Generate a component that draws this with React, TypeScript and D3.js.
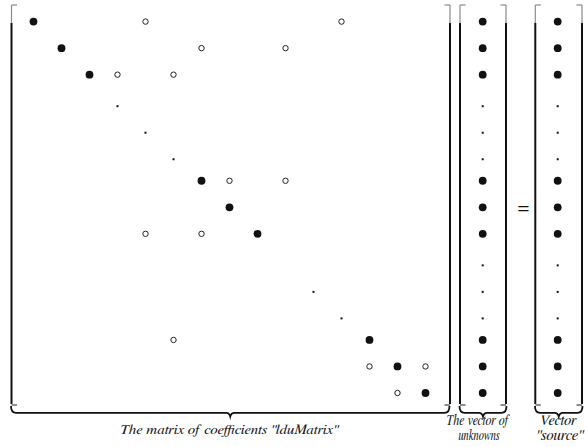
import React from "react";
import * as d3 from "d3";

// ---- data ----
// diagonal coefficients: "full" = filled dot, "gap" = small dot
const diagFull = [1, 2, 3, 7, 8, 9, 13, 14, 15];
const diagGap = [4, 5, 6, 11, 12];
// off-diagonal coefficients [row, col]
const offDiag: [number, number][] = [
  [1, 5], [1, 12],
  [2, 7], [2, 10],
  [3, 4], [3, 6],
  [7, 8], [7, 10],
  [9, 5], [9, 7],
  [13, 6],
  [14, 13], [14, 15],
  [15, 14],
];
// vectors: rows with full entries vs. ellipsis rows
const vecFull = [1, 2, 3, 7, 8, 9, 13, 14, 15];
const vecGap = [4, 5, 6, 10, 11, 12];

const labelMatrix = 'The matrix of  coefficients "lduMatrix"';
const labelUnknowns = ["The vector of", "unknowns"];
const labelSource = ["Vector", '"source"'];

const W = 585;
const H = 447;

export default function App() {
  const x = d3.scaleLinear().domain([1, 15]).range([33.5, 425.5]);
  const y = d3.scaleLinear().domain([1, 15]).range([21.6, 393]);
  const xUnk = 482.7;
  const xSrc = 557.7;

  const top = 5;
  const bot = 405;
  const blackStart = 23;
  const blk = "#111";
  const gry = "#8a8a8a";

  const bracket = (xv: number, dir: number, key: string) => (
    <g key={key}>
      <line x1={xv} x2={xv} y1={top} y2={blackStart} stroke={gry} strokeWidth={1.2} />
      <line x1={xv} x2={xv + dir * 5.5} y1={top} y2={top} stroke={gry} strokeWidth={1.2} />
      <line x1={xv} x2={xv} y1={blackStart} y2={bot - 1} stroke={blk} strokeWidth={2} />
      <line x1={xv} x2={xv + dir * 5.5} y1={bot} y2={bot} stroke="#444" strokeWidth={1.2} />
    </g>
  );

  const brace = (x0: number, x1: number, key: string) => {
    const yl = 412.8;
    const tip = 416.5;
    const xm = (x0 + x1) / 2;
    const p = d3.path();
    p.moveTo(x0, bot + 1);
    p.quadraticCurveTo(x0, yl, x0 + 5, yl);
    p.lineTo(xm - 4, yl);
    p.quadraticCurveTo(xm - 1, yl, xm, tip);
    p.quadraticCurveTo(xm + 1, yl, xm + 4, yl);
    p.lineTo(x1 - 5, yl);
    p.quadraticCurveTo(x1, yl, x1, bot + 1);
    return <path key={key} d={p.toString()} fill="none" stroke={blk} strokeWidth={1.8} />;
  };

  const ff = "FreeSerif, Liberation Serif, serif";

  return (
    <svg
      width={W}
      height={H}
      style={{ position: "absolute", left: 0, top: 0, background: "#fff" }}
    >
      {/* brackets */}
      {bracket(11.5, 1, "ml")}
      {bracket(450, -1, "mr")}
      {bracket(460, 1, "ul")}
      {bracket(506, -1, "ur")}
      {bracket(535.3, 1, "sl")}
      {bracket(582, -1, "sr")}

      {/* matrix diagonal */}
      {diagFull.map((r) => (
        <circle key={"d" + r} cx={x(r)} cy={y(r)} r={3.9} fill={blk} />
      ))}
      {diagGap.map((r) => (
        <rect key={"g" + r} x={x(r) - 1} y={y(r) + 4} width={2} height={2} fill={blk} />
      ))}
      {offDiag.map(([r, c]) => (
        <circle
          key={"o" + r + "_" + c}
          cx={x(c)}
          cy={y(r)}
          r={2.7}
          fill="#fff"
          stroke="#222"
          strokeWidth={1}
        />
      ))}

      {/* vectors */}
      {[xUnk, xSrc].map((xv, i) => (
        <g key={"v" + i}>
          {vecFull.map((r) => (
            <circle key={r} cx={xv} cy={y(r)} r={3.9} fill={blk} />
          ))}
          {vecGap.map((r) => (
            <rect key={"s" + r} x={xv - 1} y={y(r) + 4} width={2} height={2} fill={blk} />
          ))}
        </g>
      ))}

      {/* equals sign */}
      <text x={523.5} y={214} textAnchor="middle" fontFamily={ff} fontSize={20} fill={blk}>
        =
      </text>

      {/* braces */}
      {brace(11, 449.5, "bm")}
      {brace(459.5, 506.5, "bu")}
      {brace(535, 582.5, "bs")}

      {/* labels */}
      <text x={229} y={434} textAnchor="middle" fontFamily={ff} fontStyle="italic" fontSize={14} fill={blk}
        textLength={218} lengthAdjust="spacingAndGlyphs">
        {labelMatrix}
      </text>
      <text x={477.5} y={425} textAnchor="middle" fontFamily={ff} fontStyle="italic" fontSize={14.5} fill={blk}
        textLength={63} lengthAdjust="spacingAndGlyphs">
        {labelUnknowns[0]}
      </text>
      <text x={479} y={440} textAnchor="middle" fontFamily={ff} fontStyle="italic" fontSize={14.5} fill={blk}
        textLength={41} lengthAdjust="spacingAndGlyphs">
        {labelUnknowns[1]}
      </text>
      <text x={558} y={425} textAnchor="middle" fontFamily={ff} fontStyle="italic" fontSize={14.5} fill={blk}
        textLength={37} lengthAdjust="spacingAndGlyphs">
        {labelSource[0]}
      </text>
      <text x={559.5} y={440} textAnchor="middle" fontFamily={ff} fontStyle="italic" fontSize={14.5} fill={blk}
        textLength={47} lengthAdjust="spacingAndGlyphs">
        {labelSource[1]}
      </text>
    </svg>
  );
}
